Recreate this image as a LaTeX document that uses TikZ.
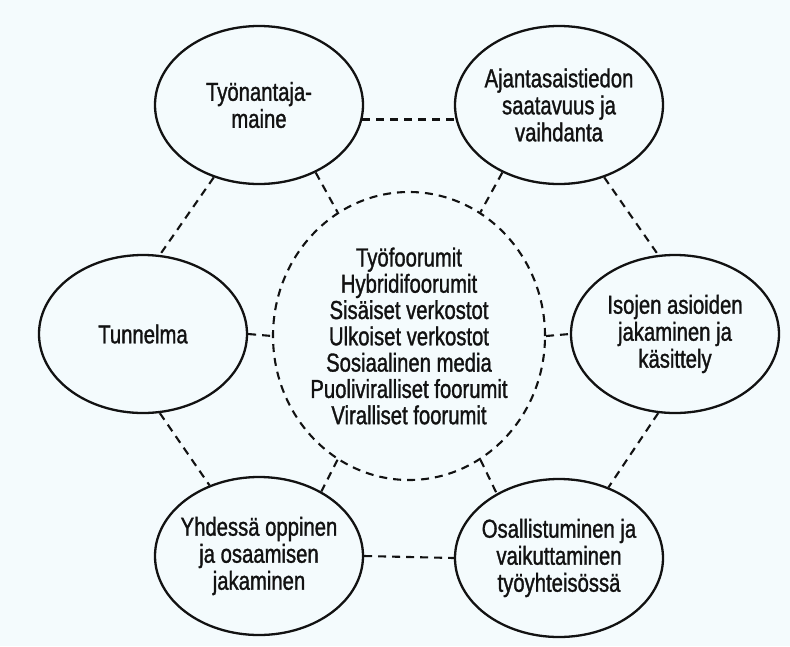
\documentclass[tikz,border=0pt]{standalone}
\usepackage{fontspec}
\setmainfont{Liberation Sans}[FakeStretch=0.78, FakeBold=1.2]
\usetikzlibrary{shapes.geometric}
\usepackage{xcolor}
\definecolor{paperbg}{RGB}{244,251,253}
\definecolor{inkblack}{RGB}{18,18,18}

\begin{document}
\begin{tikzpicture}[x=1pt, y=-1pt,
    theme/.style={ellipse, draw=inkblack, line width=2.3pt, fill=paperbg,
      minimum width=208pt, minimum height=158pt, inner xsep=-14pt, inner ysep=0pt,
      align=center, text=inkblack, font=\fontsize{26}{27}\selectfont},
    forum/.style={theme, line width=2.1pt, dash pattern=on 8pt off 6pt,
      minimum width=272pt, minimum height=288pt, font=\fontsize{26}{26.3}\selectfont},
    link/.style={draw=inkblack, line width=2.1pt, dash pattern=on 8pt off 6pt}]
    \useasboundingbox[fill=paperbg] (0,0) rectangle (790,646);

    % Centre
    \node[forum] (c) at (409,336) {Työfoorumit\\Hybridifoorumit\\Sisäiset verkostot\\Ulkoiset verkostot\\Sosiaalinen media\\Puoliviralliset foorumit\\Viralliset foorumit};

    % Top row
    \node[theme] (tl) at (259,105) {Työnantaja-\\maine};
    \node[theme] (tr) at (559,105) {Ajantasaistiedon\\saatavuus ja\\vaihdanta};

    % Middle row
    \node[theme] (l) at (143,334) {Tunnelma};
    \node[theme] (r) at (675,334) {Isojen asioiden\\jakaminen ja\\käsittely};

    % Bottom row
    \node[theme] (bl) at (259,556) {Yhdessä oppinen\\ja osaamisen\\jakaminen};
    \node[theme] (br) at (559,558) {Osallistuminen ja\\vaikuttaminen\\työyhteisössä};

    % Ring of links
    \draw[link] (tl.-8) -- (tr.188);
    \draw[link] (tr.-58) -- (r.102);
    \draw[link] (r.-102) -- (br.55);
    \draw[link] (bl.east) -- (br.west);
    \draw[link] (l.-78) -- (bl.125);
    \draw[link] (tl.-122) -- (l.78);

    % Links to the centre
    \draw[link] (tl.-50) -- (c.120);
    \draw[link] (tr.-130) -- (c.60);
    \draw[link] (l.east) -- (c.west);
    \draw[link] (c.east) -- (r.west);
    \draw[link] (c.-120) -- (bl.46);
    \draw[link] (c.-60) -- (br.134);
\end{tikzpicture}
\end{document}
